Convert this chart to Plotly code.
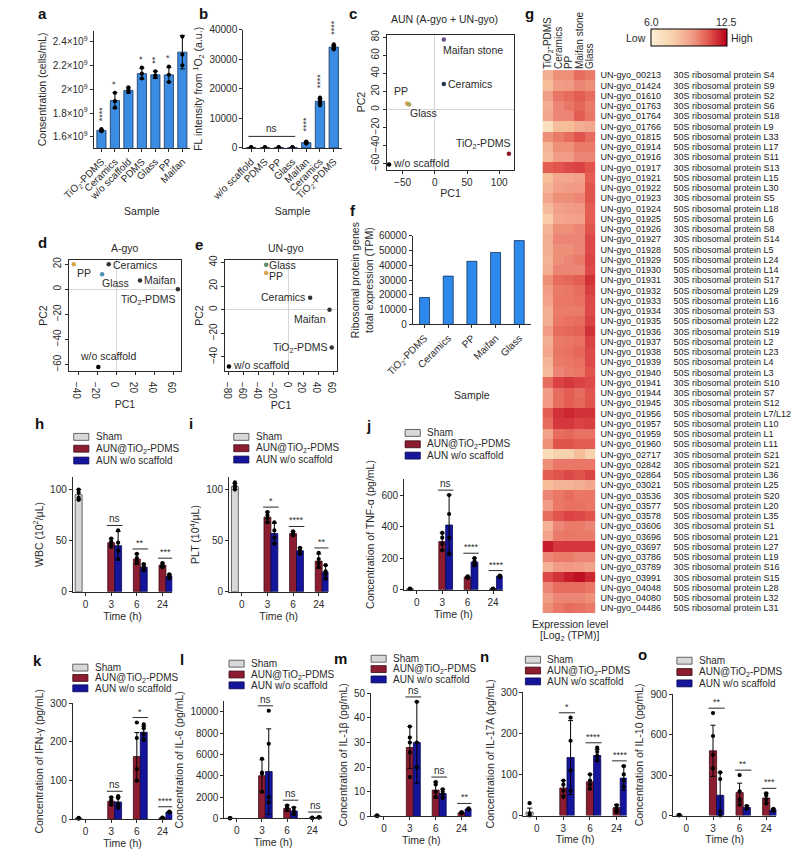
import plotly.graph_objects as go

W, H = 791, 857
FONT = "Liberation Sans, Arial, Helvetica, sans-serif"
INK = "#2a2a2a"

# ======================= DATA =======================
# ---- a: bacterial concentration
a_samples = ["TiO<sub>2</sub>-PDMS", "Ceramics", "w/o scaffold", "PDMS", "Glass", "PP", "Maifan"]
a_mean = [1.655e9, 1.905e9, 1.99e9, 2.13e9, 2.12e9, 2.12e9, 2.31e9]
a_sd = [0.008e9, 0.065e9, 0.02e9, 0.045e9, 0.03e9, 0.06e9, 0.14e9]
a_pts = [[1.665e9, 1.655e9, 1.648e9], [1.97e9, 1.90e9, 1.845e9], [2.015e9, 1.99e9, 1.975e9],
         [2.18e9, 2.13e9, 2.09e9], [2.15e9, 2.115e9, 2.10e9], [2.19e9, 2.12e9, 2.06e9],
         [2.44e9, 2.29e9, 2.20e9]]
a_sig = ["****", "*", "", "*", "**", "*", "*"]
a_yticks = [1.6e9, 1.8e9, 2.0e9, 2.2e9, 2.4e9]
a_yticktext = ["1.6×10<sup>9</sup>", "1.8×10<sup>9</sup>", "2×10<sup>9</sup>", "2.2×10<sup>9</sup>", "2.4×10<sup>9</sup>"]

# ---- b: singlet oxygen fluorescence
b_samples = ["w/o scaffold", "PDMS", "PP", "Glass", "Maifan", "Ceramics", "TiO<sub>2</sub>-PDMS"]
b_mean = [150, 150, 140, 150, 1800, 15800, 34100]
b_sd = [60, 60, 60, 60, 250, 900, 600]
b_pts = [[250, 200, 150, 100, 60], [240, 190, 150, 110, 70], [230, 180, 140, 100, 60],
         [240, 190, 150, 110, 70], [2150, 1950, 1800, 1650, 1500], [17000, 16600, 15900, 15300, 14400],
         [35000, 34600, 34100, 33700, 33300]]
b_sig = ["", "", "", "", "****", "****", "****"]
b_ns_group = [0, 1, 2, 3]

# ---- c, d, e: PCA
c_labels = ["Maifan stone", "Ceramics", "PP", "Glass", "w/o scaffold", "TiO<sub>2</sub>-PDMS"]
c_pc1 = [14, 14, -43, -40, -71, 115]
c_pc2 = [77.5, 28.4, 6.6, 5.5, -61, -49]
d_labels = ["PP", "Ceramics", "Glass", "Maifan", "TiO<sub>2</sub>-PDMS", "w/o scaffold"]
d_pc1 = [-45, -8, -15, 25, 65, -19]
d_pc2 = [20, 20, 12, 7, 0, -62]
e_labels = ["Glass", "PP", "Ceramics", "Maifan", "TiO<sub>2</sub>-PDMS", "w/o scaffold"]
e_pc1 = [-30, -30, 29, 55, 58, -80]
e_pc2 = [38, 31, 10, 0, -32, -48]

# ---- f: ribosomal total expression
f_samples = ["TiO<sub>2</sub>-PDMS", "Ceramics", "PP", "Maifan", "Glass"]
f_vals = [18200, 32700, 42700, 48700, 56700]

# ---- g: heatmap
hm_cols = ["TiO<sub>2</sub>-PDMS", "Ceramics", "PP", "Maifan stone", "Glass"]
hm_ids = ["00213", "01424", "01610", "01763", "01764", "01766", "01815", "01914", "01916", "01917",
          "01921", "01922", "01923", "01924", "01925", "01926", "01927", "01928", "01929", "01930",
          "01931", "01932", "01933", "01934", "01935", "01936", "01937", "01938", "01939", "01940",
          "01941", "01944", "01945", "01956", "01957", "01959", "01960", "02717", "02842", "02864",
          "03021", "03536", "03577", "03578", "03606", "03696", "03697", "03786", "03789", "03991",
          "04048", "04080", "04486"]
hm_desc = ["30S ribosomal protein S4", "30S ribosomal protein S9", "30S ribosomal protein S2",
           "30S ribosomal protein S6", "30S ribosomal protein S18", "50S ribosomal protein L9",
           "50S ribosomal protein L33", "50S ribosomal protein L17", "30S ribosomal protein S11",
           "30S ribosomal protein S13", "50S ribosomal protein L15", "50S ribosomal protein L30",
           "30S ribosomal protein S5", "50S ribosomal protein L18", "50S ribosomal protein L6",
           "30S ribosomal protein S8", "30S ribosomal protein S14", "50S ribosomal protein L5",
           "50S ribosomal protein L24", "50S ribosomal protein L14", "30S ribosomal protein S17",
           "50S ribosomal protein L29", "50S ribosomal protein L16", "30S ribosomal protein S3",
           "50S ribosomal protein L22", "30S ribosomal protein S19", "50S ribosomal protein L2",
           "50S ribosomal protein L23", "50S ribosomal protein L4", "50S ribosomal protein L3",
           "30S ribosomal protein S10", "30S ribosomal protein S7", "30S ribosomal protein S12",
           "50S ribosomal protein L7/L12", "50S ribosomal protein L10", "50S ribosomal protein L1",
           "50S ribosomal protein L11", "30S ribosomal protein S21", "30S ribosomal protein S21",
           "50S ribosomal protein L36", "50S ribosomal protein L25", "30S ribosomal protein S20",
           "50S ribosomal protein L20", "50S ribosomal protein L35", "30S ribosomal protein S1",
           "50S ribosomal protein L21", "50S ribosomal protein L27", "50S ribosomal protein L19",
           "30S ribosomal protein S16", "30S ribosomal protein S15", "50S ribosomal protein L28",
           "50S ribosomal protein L32", "50S ribosomal protein L31"]
hm_z = [
    [9.0, 9.8, 9.8, 10.5, 10.2], [8.5, 9.5, 9.6, 10.0, 9.8], [9.5, 10.3, 10.5, 10.8, 10.5],
    [9.0, 10.0, 10.3, 10.6, 10.2], [9.2, 10.0, 10.0, 10.8, 10.3], [7.0, 8.5, 8.5, 9.0, 9.2],
    [9.8, 10.2, 10.5, 11.0, 10.5], [8.8, 9.8, 9.8, 10.2, 10.2], [8.6, 9.5, 9.5, 10.0, 10.0],
    [10.8, 11.0, 11.2, 11.3, 11.0], [8.5, 9.2, 9.2, 9.4, 10.8], [8.8, 9.4, 9.5, 9.6, 11.0],
    [9.2, 9.8, 9.8, 10.0, 11.0], [8.6, 9.4, 9.5, 9.6, 10.8], [8.0, 9.2, 9.3, 9.4, 10.8],
    [8.8, 9.8, 9.8, 10.0, 11.0], [9.0, 10.0, 10.0, 10.0, 11.2], [9.0, 9.8, 9.8, 10.0, 11.2],
    [8.8, 9.8, 10.0, 10.2, 11.3], [9.0, 10.0, 10.0, 10.0, 11.2], [9.8, 10.5, 10.6, 10.8, 11.6],
    [9.5, 10.2, 10.3, 10.5, 11.4], [9.3, 10.3, 10.3, 10.4, 11.2], [9.0, 10.2, 10.2, 10.2, 11.2],
    [9.0, 10.3, 10.4, 10.5, 11.3], [9.5, 10.5, 10.6, 10.7, 11.6], [9.0, 10.2, 10.3, 10.4, 11.3],
    [9.2, 10.3, 10.4, 10.6, 11.2], [8.8, 10.2, 10.3, 10.4, 11.2], [8.6, 10.0, 10.2, 10.3, 11.0],
    [10.5, 11.3, 11.5, 11.3, 11.2], [9.5, 10.5, 10.8, 10.5, 11.0], [9.6, 10.5, 10.8, 10.6, 11.0],
    [10.8, 11.6, 11.8, 11.6, 11.6], [10.5, 11.5, 11.5, 11.3, 11.4], [9.3, 10.5, 10.6, 10.4, 10.4],
    [9.8, 11.0, 11.0, 10.8, 10.8], [7.2, 7.8, 7.8, 8.5, 7.8], [9.8, 10.3, 10.3, 10.3, 10.3],
    [10.8, 11.0, 11.2, 11.0, 11.3], [8.5, 8.8, 8.8, 9.0, 9.2], [10.0, 10.3, 10.5, 10.3, 10.3],
    [9.5, 10.3, 10.4, 10.4, 10.3], [10.5, 11.0, 11.3, 11.2, 11.0], [8.8, 10.0, 10.2, 10.2, 10.0],
    [9.3, 10.2, 10.3, 10.2, 10.2], [12.0, 11.5, 11.5, 11.5, 11.5], [10.0, 10.2, 10.2, 10.0, 10.0],
    [8.8, 9.5, 9.6, 9.5, 9.3], [11.2, 11.6, 12.0, 12.2, 11.8], [10.0, 10.5, 10.5, 10.5, 10.3],
    [9.5, 10.0, 10.0, 10.0, 9.8], [9.8, 10.3, 10.5, 10.4, 10.2]]
hm_zmin, hm_zmax = 6.0, 12.5

# ---- h-o: in vivo time courses
times = ["0", "3", "6", "24"]
groups = ["Sham", "AUN@TiO<sub>2</sub>-PDMS", "AUN w/o scaffold"]

h_sham, h_sham_sd, h_sham_pts = [95], [5], [[100, 97, 92, 90]]
h_tio2, h_tio2_sd = [48, 32, 26], [4, 5, 2]
h_tio2_pts = [[52, 49, 46, 44], [37, 33, 30, 28], [28, 26, 25, 24]]
h_wo, h_wo_sd = [45, 24, 15], [14, 3, 2]
h_wo_pts = [[60, 48, 40, 32], [27, 25, 23, 21], [17, 16, 14, 13]]
h_sig = ["ns", "**", "***"]

i_sham, i_sham_sd, i_sham_pts = [103], [3], [[107, 104, 102, 100]]
i_tio2, i_tio2_sd = [73, 57, 30], [5, 2, 7]
i_tio2_pts = [[78, 75, 72, 68], [59, 57, 56, 55], [38, 32, 28, 24]]
i_wo, i_wo_sd = [57, 40, 19], [10, 3, 7]
i_wo_pts = [[68, 60, 53, 47], [43, 41, 39, 37], [26, 20, 17, 13]]
i_sig = ["*", "****", "**"]

j_sham, j_sham_sd, j_sham_pts = [5], [2], [[7, 5, 3]]
j_tio2, j_tio2_sd = [305, 80, 5], [55, 5, 2]
j_tio2_pts = [[360, 330, 290, 250], [85, 80, 78, 75], [7, 5, 4]]
j_wo, j_wo_sd = [410, 175, 85], [190, 25, 5]
j_wo_pts = [[600, 480, 330, 230], [200, 180, 165, 155], [90, 86, 82, 80]]
j_sig = ["ns", "****", "****"]

k_sham, k_sham_sd, k_sham_pts = [3], [1], [[4, 3, 2]]
k_tio2, k_tio2_sd = [47, 162, 4], [10, 62, 1]
k_tio2_pts = [[57, 50, 45, 38], [250, 210, 130, 100], [5, 4, 3]]
k_wo, k_wo_sd = [45, 225, 19], [12, 15, 1]
k_wo_pts = [[60, 55, 40, 30], [245, 235, 220, 205], [20, 19, 18]]
k_sig = ["ns", "*", "****"]

l_sham, l_sham_sd, l_sham_pts = [20], [10], [[30, 20, 10]]
l_tio2, l_tio2_sd = [4000, 950, 50], [1500, 300, 30]
l_tio2_pts = [[5600, 4300, 4200, 2500], [1200, 1000, 800], [80, 50, 30]]
l_wo, l_wo_sd = [4400, 700, 100], [4000, 350, 40]
l_wo_pts = [[10100, 7000, 2000, 1500], [1000, 700, 400], [130, 100, 80]]
l_sig = ["ns", "ns", "ns"]

m_sham, m_sham_sd, m_sham_pts = [0.3], [0.2], [[0.5, 0.3, 0.1]]
m_tio2, m_tio2_sd = [28, 10.7, 1.5], [8.5, 3.3, 0.3]
m_tio2_pts = [[36.5, 32, 30, 26, 16], [14, 13, 10, 8], [1.8, 1.5, 1.3]]
m_wo, m_wo_sd = [30, 9.3, 3], [16.5, 1.7, 0.3]
m_wo_pts = [[46.5, 30, 20], [11, 10, 9, 7.5], [3.3, 3, 2.8]]
m_sig = ["ns", "ns", "**"]

n_sham, n_sham_sd, n_sham_pts = [8], [10], [[30, 5, 0]]
n_tio2, n_tio2_sd = [67, 82, 19], [18, 18, 8]
n_tio2_pts = [[85, 75, 60, 45], [100, 85, 75, 65], [25, 18, 12, 8]]
n_wo, n_wo_sd = [141, 146, 91], [90, 15, 30]
n_wo_pts = [[238, 182, 110, 60], [165, 155, 145, 135], [120, 100, 85, 70]]
n_sig = ["*", "****", "****"]

o_sham, o_sham_sd, o_sham_pts = [3], [2], [[5, 3, 1]]
o_tio2, o_tio2_sd = [480, 170, 130], [190, 70, 35]
o_tio2_pts = [[760, 590, 450, 350], [300, 180, 120, 80], [165, 150, 120, 90]]
o_wo, o_wo_sd = [150, 60, 40], [170, 15, 10]
o_wo_pts = [[320, 270, 30, 0], [70, 60, 50], [50, 40, 35]]
o_sig = ["**", "**", "***"]

# ======================= STYLE / LAYOUT =======================
BAR_BLUE = "#3b8de3"
F_BLUE = "#2d89ec"
GCOL = ["#d8d8d8", "#8c1d31", "#15159c"]
GLINE = ["#444444", "#3a0a12", "#080850"]

fig = go.Figure()
lay = {}
ann = []
shp = []


def ids(n):
    return ("x" if n == 1 else f"x{n}"), ("y" if n == 1 else f"y{n}")


def setup(n, box, xa=None, ya=None):
    x0, x1, y0, y1 = box
    xid, yid = ids(n)
    base = dict(showline=True, linecolor=INK, linewidth=1, ticks="outside", ticklen=3,
                tickcolor=INK, tickwidth=1, showgrid=False, zeroline=False,
                tickfont=dict(size=10, color=INK, family=FONT),
                title_font=dict(size=10.5, color=INK, family=FONT))
    xc = dict(base, domain=[x0 / W, x1 / W], anchor=yid)
    yc = dict(base, domain=[1 - y1 / H, 1 - y0 / H], anchor=xid)
    xc.update(xa or {})
    yc.update(ya or {})
    lay["xaxis" if n == 1 else f"xaxis{n}"] = xc
    lay["yaxis" if n == 1 else f"yaxis{n}"] = yc
    return xid, yid


def text(x, y, s, size=10.5, xanchor="center", yanchor="middle", bold=False, **kw):
    ann.append(dict(x=x / W, y=1 - y / H, xref="paper", yref="paper", text=f"<b>{s}</b>" if bold else s,
                    showarrow=False, xanchor=xanchor, yanchor=yanchor,
                    font=dict(size=size, color="#111" if bold else INK, family=FONT), **kw))


ERR = dict(type="data", color="black", thickness=1, width=2.5, visible=True)
DOT = dict(color="black", size=4.2)

# ---------- a ----------
BOX_A = (64, 166, 25, 144)
A_RNG = [1.508e9, 2.49e9]
xa_, ya_ = setup(1, BOX_A,
                 xa=dict(type="category", tickangle=-45, title=dict(text="Sample", standoff=6)),
                 ya=dict(range=A_RNG, tickvals=a_yticks, ticktext=a_yticktext,
                         title=dict(text="Consentration (cells/mL)", standoff=4)))
fig.add_trace(go.Bar(x=a_samples, y=a_mean, width=0.68, error_y=dict(ERR, array=a_sd),
                     marker=dict(color=BAR_BLUE, line=dict(color="#17345a", width=0.8)),
                     xaxis=xa_, yaxis=ya_))
fig.add_trace(go.Scatter(x=[s for s, p in zip(a_samples, a_pts) for _ in p],
                         y=[v for p in a_pts for v in p], mode="markers", marker=DOT,
                         xaxis=xa_, yaxis=ya_))
upp = (A_RNG[1] - A_RNG[0]) / (BOX_A[3] - BOX_A[2])
for s, m, sd, p, sg in zip(a_samples, a_mean, a_sd, a_pts, a_sig):
    if sg:
        ann.append(dict(x=s, y=max(m + sd, max(p)) + 6 * upp, xref=xa_, yref=ya_, text=sg,
                        textangle=-90, showarrow=False, yanchor="bottom",
                        font=dict(size=9, color=INK, family=FONT)))

# ---------- b ----------
BOX_B = (222, 326, 24, 144)
B_RNG = [0, 40000]
xb_, yb_ = setup(2, BOX_B,
                 xa=dict(type="category", tickangle=-45, title=dict(text="Sample", standoff=6)),
                 ya=dict(range=B_RNG, tickvals=[0, 10000, 20000, 30000, 40000], tickformat="d",
                         title=dict(text="FL intensity from <sup>1</sup>O<sub>2</sub> (a.u.)", standoff=4)))
fig.add_trace(go.Bar(x=b_samples, y=b_mean, width=0.68, error_y=dict(ERR, array=b_sd),
                     marker=dict(color=BAR_BLUE, line=dict(color="#17345a", width=0.8)),
                     xaxis=xb_, yaxis=yb_))
fig.add_trace(go.Scatter(x=[s for s, p in zip(b_samples, b_pts) for _ in p],
                         y=[v for p in b_pts for v in p], mode="markers", marker=DOT,
                         xaxis=xb_, yaxis=yb_))
upp = (B_RNG[1] - B_RNG[0]) / (BOX_B[3] - BOX_B[2])
for s, m, sd, p, sg in zip(b_samples, b_mean, b_sd, b_pts, b_sig):
    if sg:
        ann.append(dict(x=s, y=max(m + sd, max(p)) + 8 * upp, xref=xb_, yref=yb_, text=sg,
                        textangle=-90, showarrow=False, yanchor="bottom",
                        font=dict(size=9, color=INK, family=FONT)))
ns_y = max(max(b_pts[g]) for g in b_ns_group) + 11 * upp
shp.append(dict(type="line", xref=xb_, yref=yb_, x0=b_ns_group[0] - 0.2, x1=b_ns_group[-1] + 0.2,
                y0=ns_y, y1=ns_y, line=dict(color=INK, width=1)))
ann.append(dict(x=(b_ns_group[0] + b_ns_group[-1]) / 2, y=ns_y, xref=xb_, yref=yb_, text="ns",
                showarrow=False, yanchor="bottom", font=dict(size=10, color=INK, family=FONT)))

# ---------- c, d, e PCA ----------
def pca(n, box, xr, yr, xt, yt, labels, xs, ys, colors, place, title, tx, ty):
    xid, yid = setup(n, box,
                     xa=dict(range=xr, tickvals=xt, mirror=True, zeroline=True, zerolinecolor="#d6d6d6",
                             zerolinewidth=1, title=dict(text="PC1", standoff=2)),
                     ya=dict(range=yr, tickvals=yt, tickangle=-90, mirror=True, zeroline=True,
                             zerolinecolor="#d6d6d6", zerolinewidth=1, title=dict(text="PC2", standoff=2)))
    fig.add_trace(go.Scatter(x=xs, y=ys, mode="markers",
                             marker=dict(color=[colors[l] for l in labels], size=4.5),
                             xaxis=xid, yaxis=yid, cliponaxis=False))
    for l, x, y in zip(labels, xs, ys):
        xa, ya, dx, dy = place[l]
        ann.append(dict(x=x, y=y, xref=xid, yref=yid, text=l, showarrow=False, xanchor=xa, yanchor=ya,
                        xshift=dx, yshift=dy, font=dict(size=10.5, color=INK, family=FONT)))
    text(tx, ty, title, size=10.5)


pca(3, (374, 508, 29, 166), [-74, 123], [-66.6, 83], [-50, 0, 50, 100], [-60, -40, -20, 0, 20, 40, 60, 80],
    c_labels, c_pc1, c_pc2,
    {"Maifan stone": "#6a4f92", "Ceramics": "#27324f", "PP": "#d9a54a", "Glass": "#a4a060",
     "w/o scaffold": "#000000", "TiO<sub>2</sub>-PDMS": "#8b1a2a"},
    {"Maifan stone": ("left", "top", -3, -2), "Ceramics": ("left", "middle", 2, 0),
     "PP": ("center", "bottom", -6, 5), "Glass": ("left", "top", -1, 0),
     "w/o scaffold": ("left", "middle", 2, 2), "TiO<sub>2</sub>-PDMS": ("right", "bottom", 3, 1)},
    "AUN (A-gyo + UN-gyo)", 435, 13)
pca(4, (38, 156, 258, 370), [-50, 68], [-65, 23], [-40, -20, 0, 20, 40, 60], [-60, -40, -20, 0, 20],
    d_labels, d_pc1, d_pc2,
    {"PP": "#d9a54a", "Ceramics": "#333333", "Glass": "#4f93b5", "Maifan": "#333333",
     "TiO<sub>2</sub>-PDMS": "#333333", "w/o scaffold": "#000000"},
    {"PP": ("left", "top", 1, -1), "Ceramics": ("left", "middle", 2, -1), "Glass": ("left", "top", -2, -1),
     "Maifan": ("left", "middle", 2, 0), "TiO<sub>2</sub>-PDMS": ("right", "top", -1, -2),
     "w/o scaffold": ("center", "bottom", 10, 3)},
    "A-gyo", 97, 245)
pca(5, (203, 321, 258, 370), [-85, 65], [-51.7, 41.7], [-80, -60, -40, -20, 0, 20, 40, 60],
    [-40, -20, 0, 20, 40],
    e_labels, e_pc1, e_pc2,
    {"Glass": "#5f8a6a", "PP": "#d9a54a", "Ceramics": "#333333", "Maifan": "#333333",
     "TiO<sub>2</sub>-PDMS": "#333333", "w/o scaffold": "#000000"},
    {"Glass": ("left", "middle", 1, 0), "PP": ("left", "middle", 1, -3), "Ceramics": ("right", "middle", -3, 1),
     "Maifan": ("right", "top", -2, -1), "TiO<sub>2</sub>-PDMS": ("right", "middle", -3, 0),
     "w/o scaffold": ("left", "middle", 2, 1)},
    "UN-gyo", 267, 245)

# ---------- f ----------
xf_, yf_ = setup(6, (401, 526, 233, 323),
                 xa=dict(type="category", tickangle=-45, ticks="outside", title=dict(text="Sample", standoff=14)),
                 ya=dict(range=[0, 60000], tickvals=[0, 10000, 20000, 30000, 40000, 50000, 60000], tickformat="d",
                         title=dict(text="Ribosomal protein genes<br>total expression (TPM)", standoff=3)))
fig.add_trace(go.Bar(x=f_samples, y=f_vals, width=0.42,
                     marker=dict(color=F_BLUE, line=dict(color="#10305a", width=0.8)),
                     xaxis=xf_, yaxis=yf_))

# ---------- g heatmap ----------
NB = "\u00a0"
hm_rows = [f"UN-gyo_{i}{NB * 5}{d}" for i, d in zip(hm_ids, hm_desc)]
xg_, yg_ = setup(7, (538, 594, 65, 616),
                 xa=dict(type="category", side="top", tickangle=-90, showline=False, ticks="",
                         tickmode="array", tickvals=hm_cols, ticktext=hm_cols),
                 ya=dict(type="category", side="right", autorange="reversed", showline=False, ticks="",
                         tickmode="array", tickvals=hm_rows, ticktext=hm_rows,
                         ticklabelstandoff=4, tickfont=dict(size=9, color="#1a1a1a", family=FONT)))
fig.add_trace(go.Heatmap(
    z=hm_z, x=hm_cols, y=hm_rows, zmin=hm_zmin, zmax=hm_zmax, xaxis=xg_, yaxis=yg_,
    colorscale=[[0, "#fdf1d6"], [0.3, "#f8cfa8"], [0.55, "#f19a83"], [0.78, "#e0504a"], [1, "#b8001a"]],
    colorbar=dict(orientation="h", x=692.5 / W, xanchor="center", y=1 - 23 / H, yanchor="top",
                  len=80 / W, lenmode="fraction", thickness=17, thicknessmode="pixels",
                  outlinewidth=1, outlinecolor="#000", showticklabels=False, ticks="", xpad=0, ypad=0)))
text(653, 16, "6.0", size=10.5)
text(732, 16, "12.5", size=10.5)
text(649, 32, "Low", size=10.5, xanchor="right")
text(735, 32, "High", size=10.5, xanchor="left")
text(567, 627, "Expression level", size=10.5)
text(567, 639, "[Log<sub>2</sub> (TPM)]", size=10.5)

# ---------- h-o grouped panels ----------
XR = [-0.5, 3.38]
SLOT = 0.27


def grouped(n, box, yr, yt, ytitle, sham, sham_sd, sham_pts, tio2, tio2_sd, tio2_pts, wo, wo_sd, wo_pts,
            sig, leg):
    xid, yid = setup(n, box,
                     xa=dict(range=XR, tickvals=list(range(len(times))), ticktext=times,
                             title=dict(text="Time (h)", standoff=2)),
                     ya=dict(range=yr, tickvals=yt, tickformat="d", title=dict(text=ytitle, standoff=4)))
    upp = (yr[1] - yr[0]) / (box[3] - box[2])
    sets = [([0], sham, sham_sd, sham_pts), (list(range(1, len(times))), tio2, tio2_sd, tio2_pts),
            (list(range(1, len(times))), wo, wo_sd, wo_pts)]
    for gi, (xs, mv, sd, pts) in enumerate(sets):
        off = (gi - 1) * SLOT
        fig.add_trace(go.Bar(x=xs, y=mv, width=SLOT, offset=off - SLOT / 2,
                             error_y=dict(ERR, array=sd),
                             marker=dict(color=GCOL[gi], line=dict(color=GLINE[gi], width=0.8)),
                             xaxis=xid, yaxis=yid))
        fig.add_trace(go.Scatter(x=[x + off for x, p in zip(xs, pts) for _ in p],
                                 y=[v for p in pts for v in p], mode="markers", marker=DOT,
                                 xaxis=xid, yaxis=yid, cliponaxis=False))
    for k, sg in enumerate(sig):
        top = max(tio2[k] + tio2_sd[k], wo[k] + wo_sd[k], max(tio2_pts[k]), max(wo_pts[k])) + 5 * upp
        g = k + 1
        shp.append(dict(type="line", xref=xid, yref=yid, x0=g - 0.17, x1=g + 0.44, y0=top, y1=top,
                        line=dict(color=INK, width=1)))
        ann.append(dict(x=g + 0.135, y=top, xref=xid, yref=yid, text=sg, showarrow=False,
                        yanchor="bottom", yshift=-1,
                        font=dict(size=10 if sg == "ns" else 9, color=INK, family=FONT)))
    lx, ly, step = leg
    for gi, name in enumerate(groups):
        yy = ly + gi * step
        shp.append(dict(type="rect", xref="paper", yref="paper", x0=lx / W, x1=(lx + 16) / W,
                        y0=1 - (yy + 3.5) / H, y1=1 - (yy - 3.5) / H, fillcolor=GCOL[gi],
                        line=dict(color=GLINE[gi], width=0.8)))
        text(lx + 21, yy, name, size=10, xanchor="left")


grouped(8, (42, 147, 478, 594), [0, 112], [0, 50, 100], "WBC (10<sup>2</sup>/μL)",
        h_sham, h_sham_sd, h_sham_pts, h_tio2, h_tio2_sd, h_tio2_pts, h_wo, h_wo_sd, h_wo_pts, h_sig,
        (43, 437, 12))
grouped(9, (207, 312, 478, 594), [0, 112], [0, 50, 100], "PLT (10<sup>4</sup>/μL)",
        i_sham, i_sham_sd, i_sham_pts, i_tio2, i_tio2_sd, i_tio2_pts, i_wo, i_wo_sd, i_wo_pts, i_sig,
        (212, 437, 11.5))
grouped(10, (392, 496, 480, 592), [0, 700], [0, 200, 400, 600], "Concentration of TNF-α (pg/mL)",
        j_sham, j_sham_sd, j_sham_pts, j_tio2, j_tio2_sd, j_tio2_pts, j_wo, j_wo_sd, j_wo_pts, j_sig,
        (393, 433, 11.5))
grouped(11, (42, 147, 707, 825), [0, 300], [0, 100, 200, 300], "Concentration of IFN-γ (pg/mL)",
        k_sham, k_sham_sd, k_sham_pts, k_tio2, k_tio2_sd, k_tio2_pts, k_wo, k_wo_sd, k_wo_pts, k_sig,
        (42, 671, 10.5))
grouped(12, (202, 305, 705, 824), [0, 11000], [0, 2000, 4000, 6000, 8000, 10000],
        "Concentration of IL-6 (pg/mL)",
        l_sham, l_sham_sd, l_sham_pts, l_tio2, l_tio2_sd, l_tio2_pts, l_wo, l_wo_sd, l_wo_pts, l_sig,
        (207, 667, 11))
grouped(13, (357, 463, 697, 822), [0, 50], [0, 10, 20, 30, 40, 50], "Concentration of IL-1β (pg/mL)",
        m_sham, m_sham_sd, m_sham_pts, m_tio2, m_tio2_sd, m_tio2_pts, m_wo, m_wo_sd, m_wo_pts, m_sig,
        (357, 662, 10.5))
grouped(14, (518, 627, 696, 821), [0, 300], [0, 100, 200, 300], "Concentration of IL-17A (pg/mL)",
        n_sham, n_sham_sd, n_sham_pts, n_tio2, n_tio2_sd, n_tio2_pts, n_wo, n_wo_sd, n_wo_pts, n_sig,
        (520, 663, 11))
grouped(15, (676, 785, 698, 821), [0, 900], [0, 300, 600, 900], "Concentration of IL-10 (pg/mL)",
        o_sham, o_sham_sd, o_sham_pts, o_tio2, o_tio2_sd, o_tio2_pts, o_wo, o_wo_sd, o_wo_pts, o_sig,
        (680, 664, 11.5))

# ---------- panel letters ----------
for L, x, y in [("a", 10, 8), ("b", 180, 8), ("c", 338, 8), ("g", 524, 8), ("d", 10, 240), ("e", 175, 242),
                ("f", 338, 207), ("h", 7, 423), ("i", 167, 423), ("j", 354, 425), ("k", 5, 664),
                ("l", 157, 663), ("m", 325, 662), ("n", 477, 660), ("o", 644, 658)]:
    text(x, y, L, size=15, bold=True)

fig.update_layout(width=W, height=H, margin=dict(l=0, r=0, t=0, b=0), showlegend=False,
                  paper_bgcolor="white", plot_bgcolor="white", barmode="overlay",
                  font=dict(family=FONT, color=INK, size=10), annotations=ann, shapes=shp, **lay)
fig.write_html("out.html", post_script="document.body.style.margin='0';",
               config={"displayModeBar": False})
